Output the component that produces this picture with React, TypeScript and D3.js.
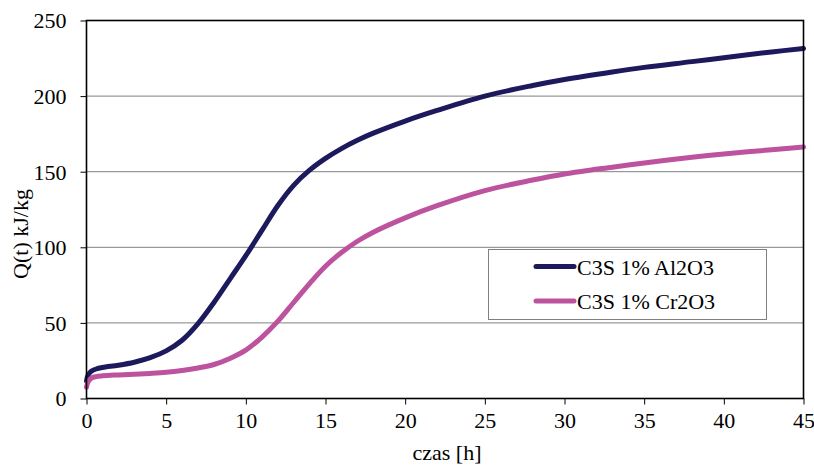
import React, { useEffect, useRef } from 'react';
import * as d3 from 'd3';

// time [h]
const hours = [0, 0.1, 0.3, 0.6, 1, 2, 3, 4, 5, 6, 7, 8, 9, 10, 11, 12, 13, 14, 15, 16, 17, 18, 20, 22, 25, 28, 30, 33, 35, 38, 40, 43, 45];
// Q(t) kJ/kg
const al2o3 = [11.5, 15.5, 18, 19.5, 20.5, 22, 24, 27, 31.5, 38.5, 49.5, 63.5, 79, 94.5, 111, 127.5, 141, 151, 158.8, 165.3, 170.8, 175.5, 183.5, 190.5, 200, 207, 211, 216, 219, 222.8, 225.4, 229.2, 231.5];
const cr2o3 = [7.5, 11, 13.5, 14.5, 15, 15.6, 16.1, 16.6, 17.3, 18.5, 20.2, 22.5, 26.5, 32, 40.5, 51, 63.5, 76, 87.5, 96.5, 104, 110, 119.5, 127.5, 137.5, 144.5, 148.5, 153, 155.8, 159.5, 161.7, 164.5, 166.3];

const seriesNames = ['C3S 1% Al2O3', 'C3S 1% Cr2O3'];
const seriesColors = ['#1c1a5c', '#bd539f'];
const xTicks = [0, 5, 10, 15, 20, 25, 30, 35, 40, 45];
const yTicks = [0, 50, 100, 150, 200, 250];

const FONT = '"Liberation Serif", "Times New Roman", serif';

export default function App() {
  const svgRef = useRef<SVGSVGElement>(null);

  useEffect(() => {
    const width = 814;
    const height = 466;
    const margin = { top: 20.5, right: 10.5, bottom: 67.5, left: 86.5 };
    const innerW = width - margin.left - margin.right;
    const innerH = height - margin.top - margin.bottom;

    const svg = d3.select(svgRef.current);
    svg.selectAll('*').remove();
    svg.attr('width', width).attr('height', height);

    const g = svg.append('g').attr('transform', `translate(${margin.left},${margin.top})`);

    const x = d3.scaleLinear().domain([0, 45]).range([0, innerW]);
    const y = d3.scaleLinear().domain([0, 250]).range([innerH, 0]);

    // grid
    g.append('g').selectAll('line').data(yTicks.filter(t => t > 0 && t < 250)).join('line')
      .attr('x1', 0).attr('x2', innerW).attr('y1', d => y(d)).attr('y2', d => y(d))
      .attr('stroke', '#808080').attr('stroke-width', 1);

    // axes
    const xAxis = g.append('g').attr('transform', `translate(0,${innerH})`)
      .call(d3.axisBottom(x).tickValues(xTicks).tickSize(6).tickPadding(8).tickFormat(d3.format('d')));
    const yAxis = g.append('g')
      .call(d3.axisLeft(y).tickValues(yTicks).tickSize(6).tickPadding(14).tickFormat(d3.format('d')));
    [xAxis, yAxis].forEach(a => {
      a.select('.domain').remove();
      a.selectAll('line').attr('stroke', '#000').attr('stroke-width', 1);
      a.selectAll('text').attr('fill', '#000').attr('font-family', FONT).attr('font-size', 22);
    });
    yAxis.selectAll('text').attr('dy', '0.34em');
    xAxis.selectAll('text').attr('dy', '0.71em');

    // series
    const line = d3.line<number>().x((d, i) => x(hours[i])).y(d => y(d)).curve(d3.curveCatmullRom.alpha(0.5));
    [al2o3, cr2o3].forEach((vals, i) => {
      g.append('path').datum(vals).attr('fill', 'none').attr('stroke', seriesColors[i])
        .attr('stroke-width', 5).attr('stroke-linecap', 'round').attr('stroke-linejoin', 'round')
        .attr('d', line);
    });

    // plot frame
    g.append('rect').attr('width', innerW).attr('height', innerH)
      .attr('fill', 'none').attr('stroke', '#000').attr('stroke-width', 1.6);

    // legend
    const lg = svg.append('g');
    lg.append('rect').attr('x', 488.5).attr('y', 249.5).attr('width', 278).attr('height', 70)
      .attr('fill', '#fff').attr('stroke', '#808080').attr('stroke-width', 1);
    seriesNames.forEach((name, i) => {
      const cy = 266.5 + i * 34.5;
      lg.append('line').attr('x1', 536).attr('x2', 574).attr('y1', cy).attr('y2', cy)
        .attr('stroke', seriesColors[i]).attr('stroke-width', 5).attr('stroke-linecap', 'round');
      lg.append('text').attr('x', 577).attr('y', cy + 8).attr('font-family', FONT).attr('font-size', 22)
        .attr('fill', '#000').text(name);
    });

    // axis titles
    svg.append('text').attr('x', 447).attr('y', 460).attr('text-anchor', 'middle')
      .attr('font-family', FONT).attr('font-size', 22).attr('fill', '#000').text('czas [h]');
    svg.append('text').attr('transform', 'translate(28,234) rotate(-90)').attr('text-anchor', 'middle')
      .attr('font-family', FONT).attr('font-size', 22).attr('fill', '#000').text('Q(t) kJ/kg');
  }, []);

  return (
    <svg ref={svgRef} style={{ position: 'absolute', left: 0, top: 0, display: 'block', background: '#fff' }} />
  );
}
